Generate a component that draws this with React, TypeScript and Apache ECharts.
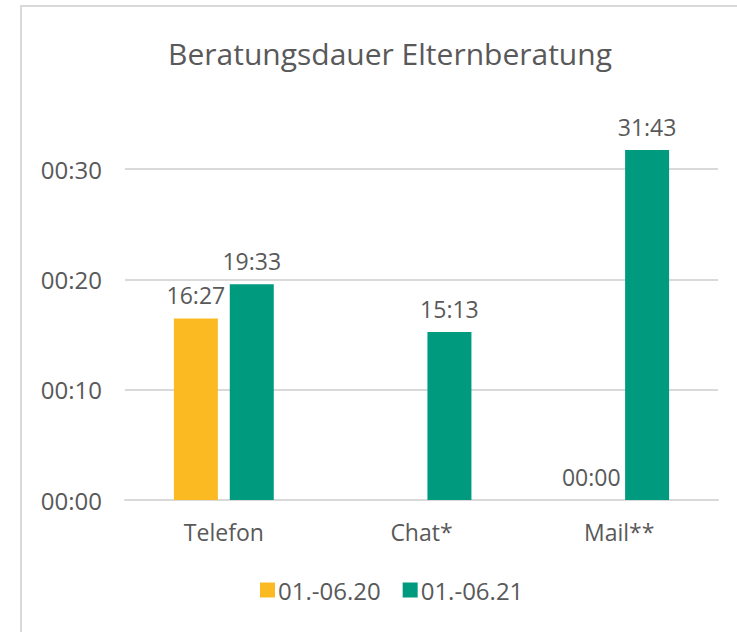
import React, { useEffect, useRef } from "react";
import * as echarts from "echarts";

const categories = ["Telefon", "Chat*", "Mail**"];
const seriesNames = ["01.-06.20", "01.-06.21"];
// durations in seconds
const values2020: (number | null)[] = [987, null, 0];
const values2021: (number | null)[] = [1173, 913, 1903];
const yTicksSeconds = [0, 600, 1200, 1800];

const pad = (n: number) => String(n).padStart(2, "0");
const fmtMinSec = (s: number) => `${pad(Math.floor(s / 60))}:${pad(Math.round(s % 60))}`;
const fmtHourMin = (s: number) => {
  const m = Math.round(s / 60);
  return `${pad(Math.floor(m / 60))}:${pad(m % 60)}`;
};

const FONT = "Open Sans";
const GREY = "#595959";

export default function App() {
  const ref = useRef<HTMLDivElement>(null);
  useEffect(() => {
    document.body.style.margin = "0";
    const chart = echarts.init(ref.current!, null, { renderer: "svg" });
    const label = {
      show: true,
      position: "top" as const,
      distance: 12,
      color: GREY,
      fontFamily: FONT,
      fontSize: 23,
      formatter: (p: any) => fmtMinSec(p.value),
    };
    chart.setOption({
      animation: false,
      backgroundColor: "#ffffff",
      textStyle: { fontFamily: FONT },
      graphic: [
        {
          type: "rect",
          shape: { x: 21, y: 6, width: 800, height: 700 },
          style: { fill: "none", stroke: "#d9d9d9", lineWidth: 2 },
          silent: true,
        },
      ],
      title: {
        text: "Beratungsdauer Elternberatung",
        left: 385,
        textAlign: "center",
        top: 33,
        textStyle: { color: GREY, fontFamily: FONT, fontSize: 30, fontWeight: "normal" },
      },
      legend: {
        data: seriesNames,
        bottom: 25,
        left: 255,
        itemWidth: 15,
        itemHeight: 15,
        itemGap: 22,
        icon: "rect",
        textStyle: { color: GREY, fontFamily: FONT, fontSize: 24, padding: [0, 0, 0, -2] },
      },
      grid: { left: 125, right: 19, top: 169, bottom: 132, containLabel: false },
      xAxis: {
        type: "category",
        data: categories,
        axisLine: { show: true, lineStyle: { color: "#d9d9d9", width: 2 } },
        axisTick: { show: false },
        axisLabel: { color: GREY, fontFamily: FONT, fontSize: 23, margin: 20 },
      },
      yAxis: {
        type: "value",
        min: yTicksSeconds[0],
        max: yTicksSeconds[yTicksSeconds.length - 1],
        interval: yTicksSeconds[1] - yTicksSeconds[0],
        axisLine: { show: false },
        axisTick: { show: false },
        splitLine: { lineStyle: { color: "#d9d9d9", width: 2 } },
        axisLabel: {
          color: GREY,
          fontFamily: FONT,
          fontSize: 24,
          margin: 23,
          formatter: (v: number) => fmtHourMin(v),
        },
      },
      series: [
        {
          name: seriesNames[0],
          type: "bar",
          data: values2020,
          barWidth: 44,
          barGap: "27%",
          clip: false,
          itemStyle: { color: "#FBBA22" },
          label,
        },
        {
          name: seriesNames[1],
          type: "bar",
          data: values2021,
          barWidth: 44,
          barGap: "27%",
          clip: false,
          itemStyle: { color: "#009B7F" },
          label,
        },
      ],
    });
    return () => chart.dispose();
  }, []);
  return <div ref={ref} style={{ width: 737, height: 632 }} />;
}
